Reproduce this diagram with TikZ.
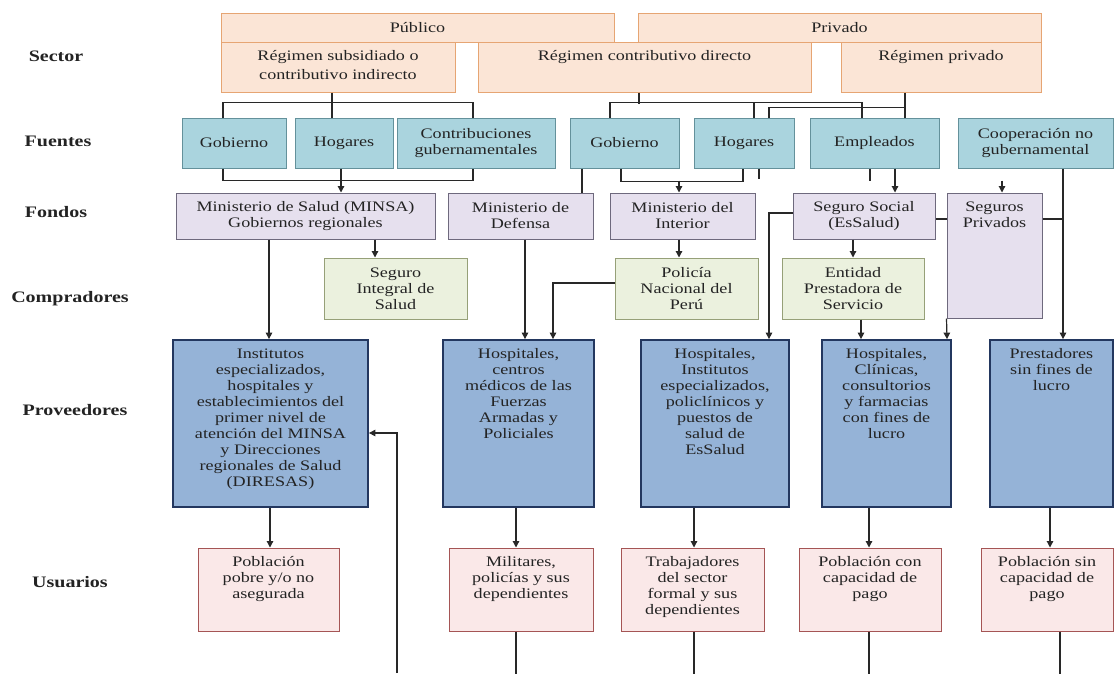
\documentclass[tikz,border=0pt]{standalone}
\usepackage{fontspec}
\setmainfont{Liberation Serif}[FakeStretch=1.25]
\usetikzlibrary{arrows.meta}

\definecolor{txt}{RGB}{35,35,35}
\definecolor{linkc}{RGB}{40,40,40}
\definecolor{secfill}{RGB}{251,229,214}
\definecolor{secline}{RGB}{230,165,115}
\definecolor{fuefill}{RGB}{170,212,222}
\definecolor{fueline}{RGB}{100,145,155}
\definecolor{fonfill}{RGB}{230,224,238}
\definecolor{fonline}{RGB}{110,105,125}
\definecolor{comfill}{RGB}{235,241,222}
\definecolor{comline}{RGB}{150,160,120}
\definecolor{profill}{RGB}{149,179,215}
\definecolor{proline}{RGB}{35,55,95}
\definecolor{usufill}{RGB}{250,232,232}
\definecolor{usuline}{RGB}{165,85,85}

\newcommand{\topcell}[3]{\parbox[c][#2][t]{#1}{\centering\rule{0pt}{18pt}#3}}

\begin{document}
\begin{tikzpicture}[x=1pt,y=-1pt,>={Triangle[length=6.5pt,width=6.5pt]},
    every node/.style={text=txt,font=\fontsize{14.5}{16}\selectfont},
    box/.style={draw,line width=1pt,inner sep=0pt},
    sec node/.style={box,fill=secfill,draw=secline,font=\fontsize{14.5}{19}\selectfont},
    fue node/.style={box,fill=fuefill,draw=fueline,minimum height=50pt,align=center},
    fon node/.style={box,fill=fonfill,draw=fonline,minimum height=46pt,align=center},
    com node/.style={box,fill=comfill,draw=comline,minimum height=61pt,align=center},
    pro node/.style={box,fill=profill,draw=proline,line width=1.8pt},
    usu node/.style={box,fill=usufill,draw=usuline},
    row node/.style={font=\bfseries\fontsize{16}{19}\selectfont},
    link/.style={draw=linkc,line width=1.2pt}]
\useasboundingbox (0,0) rectangle (1115,673);

% row titles
\node[row node] (lsec) at (56,56) {Sector};
\node[row node] (lfue) at (58,141) {Fuentes};
\node[row node] (lfon) at (56,212) {Fondos};
\node[row node] (lcom) at (70,299) {Compradores};
\node[row node] (lpro) at (75,410) {Proveedores};
\node[row node] (lusu) at (70,582) {Usuarios};

% sector
\node[sec node,minimum width=393pt,minimum height=29pt] (pub) at (417.5,27.5) {Público};
\node[sec node,minimum width=403pt,minimum height=29pt] (priv) at (839.5,27.5) {Privado};
\node[sec node] (rsub) at (338,67) {\topcell{234pt}{50pt}{Régimen subsidiado o\\contributivo indirecto}};
\node[sec node] (rcd) at (644.5,67) {\topcell{333pt}{50pt}{Régimen contributivo directo}};
\node[sec node] (rpriv) at (941,67) {\topcell{200pt}{50pt}{Régimen privado}};

% fuentes
\node[fue node,minimum width=104pt] (gobA) at (234,143) {Gobierno};
\node[fue node,minimum width=98pt] (hogA) at (344,143) {Hogares};
\node[fue node,minimum width=158pt] (contA) at (476,143) {Contribuciones\\gubernamentales};
\node[fue node,minimum width=109pt] (gobB) at (624.5,143) {Gobierno};
\node[fue node,minimum width=100pt] (hogB) at (744,143) {Hogares};
\node[fue node,minimum width=129pt] (emp) at (874.5,143) {Empleados};
\node[fue node,minimum width=155pt] (coop) at (1035.5,143) {Cooperación no\\gubernamental};

% fondos
\node[fon node,minimum width=259pt] (minsa) at (305.5,216) {Ministerio de Salud (MINSA)\\Gobiernos regionales};
\node[fon node,minimum width=145pt] (mindef) at (520.5,216) {Ministerio de\\Defensa};
\node[fon node,minimum width=145pt] (minint) at (682.5,216) {Ministerio del\\Interior};
\node[fon node,minimum width=142pt] (essalud) at (864,216) {Seguro Social\\(EsSalud)};
\node[fon node] (segpriv) at (994.5,255.5) {\topcell{95pt}{125pt}{Seguros\\Privados}};

% compradores
\node[com node,minimum width=143pt] (sis) at (395.5,288.5) {Seguro\\Integral de\\Salud};
\node[com node,minimum width=143pt] (pnp) at (686.5,288.5) {Policía\\Nacional del\\Perú};
\node[com node,minimum width=142pt] (eps) at (853,288.5) {Entidad\\Prestadora de\\Servicio};

% proveedores
\node[pro node] (inst) at (270.5,423.5) {\topcell{195pt}{167pt}{Institutos\\especializados,\\hospitales y\\establecimientos del\\primer nivel de\\atención del MINSA\\y Direcciones\\regionales de Salud\\(DIRESAS)}};
\node[pro node] (ffaa) at (518.5,423.5) {\topcell{151pt}{167pt}{Hospitales,\\centros\\médicos de las\\Fuerzas\\Armadas y\\Policiales}};
\node[pro node] (hesal) at (715,423.5) {\topcell{148pt}{167pt}{Hospitales,\\Institutos\\especializados,\\policlínicos y\\puestos de\\salud de\\EsSalud}};
\node[pro node] (clin) at (886.5,423.5) {\topcell{129pt}{167pt}{Hospitales,\\Clínicas,\\consultorios\\y farmacias\\con fines de\\lucro}};
\node[pro node] (sfl) at (1051.5,423.5) {\topcell{123pt}{167pt}{Prestadores\\sin fines de\\lucro}};

% usuarios
\node[usu node] (pobre) at (268.5,589.5) {\topcell{141pt}{83pt}{Población\\pobre y/o no\\asegurada}};
\node[usu node] (milit) at (521,589.5) {\topcell{144pt}{83pt}{Militares,\\policías y sus\\dependientes}};
\node[usu node] (trab) at (692.5,589.5) {\topcell{143pt}{83pt}{Trabajadores\\del sector\\formal y sus\\dependientes}};
\node[usu node] (pcon) at (870,589.5) {\topcell{142pt}{83pt}{Población con\\capacidad de\\pago}};
\node[usu node] (psin) at (1047,589.5) {\topcell{132pt}{83pt}{Población sin\\capacidad de\\pago}};

% sector -> fuentes
\draw[link] ([xshift=-11pt]gobA.north) -- ++(0,-15) -| ([xshift=-3pt]contA.north);
\draw[link] ([xshift=-6pt]rsub.south) -- ([xshift=-12pt]hogA.north);
\draw[link] ([xshift=-14.5pt]gobB.north) -- ++(0,-15) -| ([xshift=-12.5pt]emp.north);
\draw[link] ([xshift=-5.5pt]rcd.south) -- ++(0,11);
\draw[link] ([xshift=10pt]hogB.north) -- ++(0,-15);
\draw[link] ([xshift=-36pt]rpriv.south) -- ([xshift=30.5pt]emp.north);
\draw[link] ([xshift=25pt]hogB.north) -- ++(0,-10) -| ([xshift=30.5pt]emp.north);

% fuentes -> fondos
\draw[link] ([xshift=-11pt]gobA.south) -- ++(0,12) -| ([xshift=-3pt]contA.south);
\draw[link,->] ([xshift=-3pt]hogA.south) -- ([xshift=35.5pt]minsa.north);
\draw[link] ([xshift=-42.5pt]gobB.south) -- ([xshift=61.5pt]mindef.north);
\draw[link] ([xshift=-3.5pt]gobB.south) -- ++(0,13) -| ([xshift=-1pt]hogB.south);
\draw[link,->] ([shift={(-3.5,-12)}]minint.north) -- ([xshift=-3.5pt]minint.north);
\draw[link] ([xshift=15pt]hogB.south) -- ++(0,10);
\draw[link] ([xshift=-4.5pt]emp.south) -- ++(0,12);
\draw[link,->] ([xshift=20.5pt]emp.south) -- ([xshift=31pt]essalud.north);
\draw[link,->] ([shift={(7.5,-12)}]segpriv.north) -- ([xshift=7.5pt]segpriv.north);
\draw[link,->] ([xshift=27.5pt]coop.south) -- ([xshift=11.5pt]sfl.north);

% fondos -> compradores -> proveedores
\draw[link,->] ([xshift=69.5pt]minsa.south) -- ([xshift=-20.5pt]sis.north);
\draw[link,->] ([xshift=-36.5pt]minsa.south) -- ([xshift=-1.5pt]inst.north);
\draw[link,->] ([xshift=4.5pt]mindef.south) -- ([xshift=6.5pt]ffaa.north);
\draw[link,->] ([yshift=5.5pt]pnp.west) -| ([xshift=34.5pt]ffaa.north);
\draw[link,->] ([xshift=-3.5pt]minint.south) -- ([xshift=-7.5pt]pnp.north);
\draw[link,->] ([yshift=3pt]essalud.west) -| ([xshift=54pt]hesal.north);
\draw[link] ([yshift=-3pt]essalud.east) -- ([yshift=36.5pt]segpriv.west);
\draw[link] ([yshift=36.5pt]segpriv.east) -- ++(21,0);
\draw[link,->] ([xshift=-11pt]essalud.south) -- (eps.north);
\draw[link,->] ([xshift=8pt]eps.south) -- ([xshift=-25.5pt]clin.north);
\draw[link,->] (segpriv.south west) -- ([xshift=60.5pt]clin.north);

% proveedores -> usuarios
\draw[link,->] ([xshift=-0.5pt]inst.south) -- ([xshift=1.5pt]pobre.north);
\draw[link,->] ([xshift=-2.5pt]ffaa.south) -- ([xshift=-5pt]milit.north);
\draw[link,->] ([xshift=-21pt]hesal.south) -- ([xshift=1.5pt]trab.north);
\draw[link,->] ([xshift=-17.5pt]clin.south) -- ([xshift=-1pt]pcon.north);
\draw[link,->] ([xshift=-1.5pt]sfl.south) -- ([xshift=3pt]psin.north);

\draw[link] ([xshift=-5pt]milit.south) -- ++(0,42);
\draw[link] ([xshift=1.5pt]trab.south) -- ++(0,42);
\draw[link] ([xshift=-1pt]pcon.south) -- ++(0,42);
\draw[link] ([xshift=13pt]psin.south) -- ++(0,42);
\coordinate (back) at (397,673);
\draw[link,->] (back) |- ([yshift=-9.5pt]inst.east);
\end{tikzpicture}
\end{document}
